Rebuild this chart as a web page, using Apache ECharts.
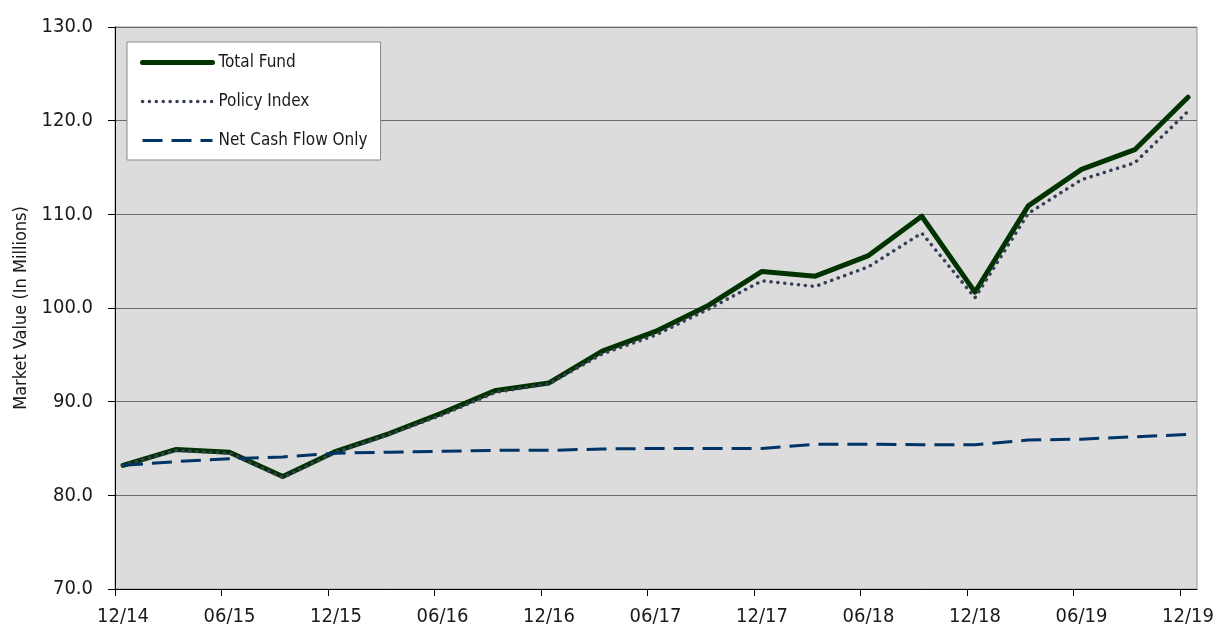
<!DOCTYPE html>
<html>
<head>
<meta charset="utf-8">
<script src="https://cdn.jsdelivr.net/npm/echarts@6/dist/echarts.min.js"></script>
<style>
html,body{margin:0;padding:0;background:#fff;}
#chart{width:1217px;height:628px;}
</style>
</head>
<body>
<div id="chart"></div>
<script>
const categories = ['12/14','03/15','06/15','09/15','12/15','03/16','06/16','09/16','12/16','03/17','06/17','09/17','12/17','03/18','06/18','09/18','12/18','03/19','06/19','09/19','12/19'];
const totalFund = [83.2, 84.9, 84.6, 82.0, 84.7, 86.6, 88.8, 91.2, 92.0, 95.4, 97.5, 100.3, 103.9, 103.4, 105.6, 109.8, 101.7, 110.9, 114.8, 116.9, 122.5];
const policyIndex = [83.2, 84.8, 84.5, 81.9, 84.6, 86.5, 88.6, 91.0, 91.9, 95.1, 97.1, 99.9, 102.9, 102.3, 104.4, 108.0, 101.1, 110.1, 113.7, 115.5, 121.0];
const netCashFlow = [83.2, 83.6, 83.9, 84.1, 84.5, 84.6, 84.7, 84.8, 84.8, 84.95, 85.0, 85.0, 85.0, 85.45, 85.45, 85.4, 85.4, 85.9, 86.0, 86.25, 86.5];
const yTicks = [70, 80, 90, 100, 110, 120, 130];
const xTickPositions = [0,1,2,3,4,5,6,7,8,9,10];

const FONT = "'DejaVu Sans Condensed', 'Liberation Sans Narrow', sans-serif";
const chart = echarts.init(document.getElementById('chart'), null, {renderer: 'canvas'});
chart.setOption({
  animation: false,
  backgroundColor: '#ffffff',
  grid: [
    {left: 115, right: 20, top: 27, bottom: 39, show: true, backgroundColor: '#dcdcdc', borderColor: '#999999', borderWidth: 1},
    {left: 123, right: 29, top: 27, bottom: 39}
  ],
  xAxis: [
    {
      type: 'value', gridIndex: 0, min: 0, max: 10.16,
      axisLine: {show: true, lineStyle: {color: '#000', width: 1}},
      axisTick: {show: true, length: 7, inside: false, customValues: xTickPositions, lineStyle: {color: '#000'}},
      axisLabel: {show: false},
      splitLine: {show: false}
    },
    {
      type: 'category', gridIndex: 1, data: categories, boundaryGap: false,
      axisLine: {show: false},
      axisTick: {show: false},
      axisLabel: {interval: 1, margin: 18, fontSize: 20, color: '#1a1a1a', fontFamily: FONT},
      splitLine: {show: false}
    }
  ],
  yAxis: [
    {
      type: 'value', gridIndex: 0, min: yTicks[0], max: yTicks[yTicks.length-1], interval: 10,
      name: 'Market Value (In Millions)', nameLocation: 'middle', nameRotate: 90, nameGap: 84,
      nameTextStyle: {fontSize: 18, color: '#1a1a1a', fontFamily: FONT},
      axisLine: {show: true, lineStyle: {color: '#000', width: 1}},
      axisTick: {show: true, length: 7, inside: false, lineStyle: {color: '#000'}},
      axisLabel: {margin: 22, fontSize: 20, color: '#1a1a1a', fontFamily: FONT, padding: [5,0,0,0], formatter: v => v.toFixed(1)},
      splitLine: {show: true, lineStyle: {color: '#6a6a6a', width: 1}}
    },
    {
      type: 'value', gridIndex: 1, min: yTicks[0], max: yTicks[yTicks.length-1], show: false,
      splitLine: {show: false}
    }
  ],
  legend: {
    orient: 'vertical', left: 127, top: 42,
    backgroundColor: '#ffffff', borderColor: '#888888', borderWidth: 1,
    padding: [12, 13, 11, 13],
    itemWidth: 70, itemHeight: 18, itemGap: 22,
    textStyle: {fontSize: 17, color: '#1a1a1a', fontFamily: FONT, padding: [0,0,0,1]},
    lineStyle: {width: 'inherit'},
    itemStyle: {opacity: 0},
    data: ['Total Fund', 'Policy Index', 'Net Cash Flow Only']
  },
  series: [
    {
      name: 'Total Fund', type: 'line', xAxisIndex: 1, yAxisIndex: 1, data: totalFund,
      symbol: 'none', showSymbol: false, lineStyle: {color: '#003300', width: 5, join: 'round', cap: 'round'},
      itemStyle: {color: '#003300'}, z: 3
    },
    {
      name: 'Policy Index', type: 'line', xAxisIndex: 1, yAxisIndex: 1, data: policyIndex,
      symbol: 'none', showSymbol: false, lineStyle: {color: '#363f57', width: 3.5, type: [0.1, 6.8], cap: 'round'},
      itemStyle: {color: '#363f57'}, z: 4
    },
    {
      name: 'Net Cash Flow Only', type: 'line', xAxisIndex: 1, yAxisIndex: 1, data: netCashFlow,
      symbol: 'none', showSymbol: false, lineStyle: {color: '#003366', width: 3, type: [20, 9]},
      itemStyle: {color: '#003366'}, z: 5
    }
  ]
});
</script>
</body>
</html>
